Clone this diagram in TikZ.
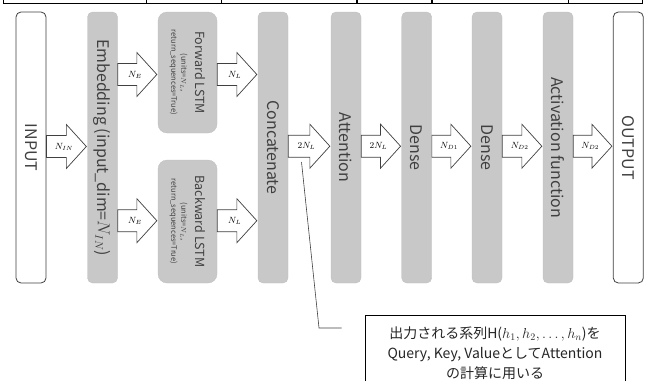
\documentclass[tikz,border=0pt]{standalone}
\usepackage{fontspec}
\setmainfont{Noto Sans CJK JP}
\usetikzlibrary{calc}
\definecolor{boxgray}{HTML}{C8C8C8}
\definecolor{txtgray}{HTML}{404040}
\definecolor{lngray}{HTML}{404040}
\tikzset{
  graybox/.style={fill=boxgray, draw=boxgray!95!black, line width=0.3pt, rounded corners=5pt, inner sep=0pt},
  iobox/.style={fill=white, draw=lngray, line width=0.8pt, rounded corners=5pt, inner sep=0pt},
  lstmbox/.style={fill=boxgray, draw=boxgray!95!black, line width=0.3pt, rounded corners=9pt, inner sep=0pt},
  biglbl/.style={rotate=-90, text=txtgray, font=\fontsize{16}{19}\selectfont, inner sep=0pt},
  lstmlbl/.style={rotate=-90, text=txtgray, align=center, font=\fontsize{7.5}{10}\selectfont, inner sep=0pt},
  blockarr/.style={fill=white, draw=lngray, line width=0.7pt, line join=miter},
  arrlbl/.style={font=\fontsize{9}{10}\selectfont, inner sep=0pt},
  tableline/.style={line width=1.3pt, black},
  callline/.style={draw=lngray, line width=0.6pt},
  notebox/.style={draw=black, line width=0.7pt, fill=white, inner sep=0pt},
}
\newcommand\barrow[4]{%
  \draw[blockarr] let \p1=(#1.east |- 0,#3), \p2=(#2.west |- 0,#3) in
    (\x1,\y1+11pt) -- (\x2-21pt,\y1+11pt) -- (\x2-21pt,\y1+22pt) -- (\x2-1pt,\y1)
    -- (\x2-21pt,\y1-22pt) -- (\x2-21pt,\y1-11pt) -- (\x1,\y1-11pt) -- cycle
    ({0.57*\x1+0.43*\x2},\y1) node[arrlbl] {#4};}
\begin{document}
\begin{tikzpicture}[x=1pt,y=-1pt]
\useasboundingbox (0,0) rectangle (647,380);
\clip (0,0) rectangle (647,380);
% table fragment at top
\draw[tableline] (3,3.2) -- (643,3.2);
\foreach \xx in {3.7,146.7,221.7,357,432,568.7,642.5}
  \draw[tableline] (\xx,0) -- (\xx,3.2);
% boxes
\node[iobox, minimum width=30pt, minimum height=271pt] (inp) at (31,147.5) {};
\node[graybox, minimum width=30pt, minimum height=271pt] (emb) at (102.5,147.5) {};
\node[lstmbox, minimum width=59pt, minimum height=121pt] (fwd) at (187.5,72.5) {};
\node[lstmbox, minimum width=59pt, minimum height=123pt] (bwd) at (187.5,221.5) {};
\node[graybox, minimum width=30pt, minimum height=271pt] (cat) at (273,147.5) {};
\node[graybox, minimum width=30pt, minimum height=271pt] (att) at (346,147.5) {};
\node[graybox, minimum width=30pt, minimum height=271pt] (den1) at (416.7,147.5) {};
\node[graybox, minimum width=30pt, minimum height=271pt] (den2) at (487,147.5) {};
\node[graybox, minimum width=30pt, minimum height=271pt] (act) at (558,147.5) {};
\node[iobox, minimum width=30pt, minimum height=271pt] (out) at (628.3,147.5) {};
% box texts
\node[biglbl] (tinp) at (inp) {INPUT};
\node[biglbl] (temb) at (emb) {Embedding (input\_dim=$N_{IN}$)};
\node[lstmlbl] (tfwd) at (fwd)
  {{\fontsize{12.5}{14}\selectfont Forward LSTM}\\[4pt](units=$N_L$,\\return\_sequences=True)};
\node[lstmlbl] (tbwd) at (bwd)
  {{\fontsize{12.5}{14}\selectfont Backward LSTM}\\[4pt](units=$N_L$,\\return\_sequences=True)};
\node[biglbl] (tcat) at (cat) {Concatenate};
\node[biglbl] (tatt) at (att) {Attention};
\node[biglbl] (tden1) at (den1) {Dense};
\node[biglbl] (tden2) at (den2) {Dense};
\node[biglbl] (tact) at (act) {Activation function};
\node[biglbl] (tout) at (out) {OUTPUT};
% block arrows
\barrow{inp}{emb}{146.5}{$N_{IN}$}
\barrow{emb}{fwd}{74.5}{$N_E$}
\barrow{fwd}{cat}{74.5}{$N_L$}
\barrow{emb}{bwd}{220.7}{$N_E$}
\barrow{bwd}{cat}{220.7}{$N_L$}
\barrow{cat}{att}{146.2}{$2N_L$}
\barrow{att}{den1}{146.2}{$2N_L$}
\barrow{den1}{den2}{146.2}{$N_{D1}$}
\barrow{den2}{act}{146.2}{$N_{D2}$}
\barrow{act}{out}{146.2}{$N_{D2}$}
% callout
\coordinate (cs) at (301.5,162);
\coordinate (cb) at (319,328);
\coordinate (ce) at (341.7,328);
\draw[callline] (cs) -- (cb) -- (ce);
\node[notebox, minimum width=260pt, minimum height=95pt, anchor=north west] (note) at (365,315) {};
\node[align=center, font=\fontsize{14}{20}\selectfont, text=black!85, inner sep=0pt] (notetxt) at (495,353.5)
  {出力される系列H($h_1,h_2,\dots,h_n$)を\\Query, Key, ValueとしてAttention\\の計算に用いる};
\end{tikzpicture}
\end{document}
